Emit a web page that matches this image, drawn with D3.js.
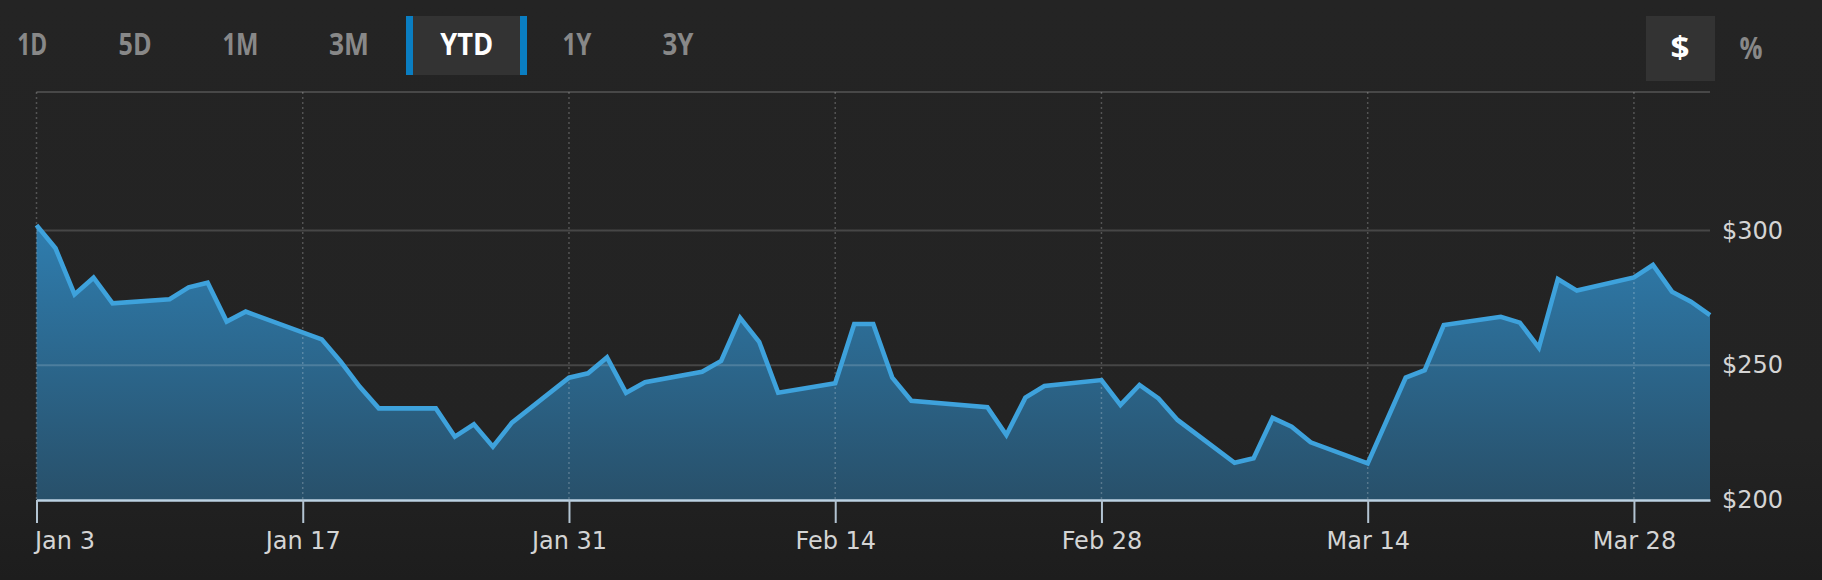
<!DOCTYPE html>
<html>
<head>
<meta charset="utf-8">
<script src="https://cdn.jsdelivr.net/npm/d3@7/dist/d3.min.js"></script>
<style>
  html, body { margin: 0; padding: 0; background: #232323; }
  svg { display: block; }
</style>
</head>
<body>
<svg id="chart" width="1822" height="580"></svg>
<script>
// ---- data ----
const dates = ["2022-01-03","2022-01-04","2022-01-05","2022-01-06","2022-01-07","2022-01-10","2022-01-11","2022-01-12","2022-01-13","2022-01-14","2022-01-18","2022-01-19","2022-01-20","2022-01-21","2022-01-24","2022-01-25","2022-01-26","2022-01-27","2022-01-28","2022-01-31","2022-02-01","2022-02-02","2022-02-03","2022-02-04","2022-02-07","2022-02-08","2022-02-09","2022-02-10","2022-02-11","2022-02-14","2022-02-15","2022-02-16","2022-02-17","2022-02-18","2022-02-22","2022-02-23","2022-02-24","2022-02-25","2022-02-28","2022-03-01","2022-03-02","2022-03-03","2022-03-04","2022-03-07","2022-03-08","2022-03-09","2022-03-10","2022-03-11","2022-03-14","2022-03-15","2022-03-16","2022-03-17","2022-03-18","2022-03-21","2022-03-22","2022-03-23","2022-03-24","2022-03-25","2022-03-28","2022-03-29","2022-03-30","2022-03-31","2022-04-01"];
const prices = [302,293.4,276.3,282.5,273,274.5,278.9,280.6,266.2,269.9,259.6,251.3,242.0,234.0,234.0,223.5,228.1,219.8,228.7,245.4,247.0,252.9,239.8,243.7,247.6,251.6,267.6,258.7,239.8,243.3,265.3,265.3,245.4,236.8,234.4,224.1,238.0,242.3,244.5,235.3,242.7,237.7,229.7,213.8,215.5,230.5,227.2,221.4,213.6,229.5,245.4,248.2,264.9,268.0,265.8,256.5,282.0,277.7,282.6,287.2,277.3,273.6,268.6];
const xTickDates = ["2022-01-03","2022-01-17","2022-01-31","2022-02-14","2022-02-28","2022-03-14","2022-03-28"];
const yTickValues = [200, 250, 300];
const yGridValues = [250, 300];
const rangeButtons = ["1D","5D","1M","3M","YTD","1Y","3Y"];
const activeRange = "YTD";
const unitButtons = ["$","%"];
const activeUnit = "$";

// ---- setup ----
const parse = d3.timeParse("%Y-%m-%d");
const data = dates.map((d, i) => ({ date: parse(d), value: prices[i] }));
const svg = d3.select("#chart");
const W = 1822, H = 580;
const plotL = 36.5, plotR = 1710, plotT = 92, plotB = 500;

const defs = svg.append("defs");
const bg = defs.append("linearGradient").attr("id", "bg").attr("x1", 0).attr("y1", 0).attr("x2", 0).attr("y2", 1);
bg.append("stop").attr("offset", "0%").attr("stop-color", "#242424");
bg.append("stop").attr("offset", "75%").attr("stop-color", "#232323");
bg.append("stop").attr("offset", "100%").attr("stop-color", "#1d1d1d");
svg.append("rect").attr("width", W).attr("height", H).attr("fill", "url(#bg)");

const areaGrad = defs.append("linearGradient").attr("id", "areaGrad")
  .attr("gradientUnits", "userSpaceOnUse").attr("x1", 0).attr("y1", 220).attr("x2", 0).attr("y2", plotB);
areaGrad.append("stop").attr("offset", "0%").attr("stop-color", "#2f7eb0");
areaGrad.append("stop").attr("offset", "100%").attr("stop-color", "#28506a");

const x = d3.scaleTime()
  .domain([parse(dates[0]), parse(dates[dates.length - 1])])
  .range([plotL, plotR]);
const y = d3.scaleLinear().domain([200, 300]).range([plotB, 230.5]);

// top border line
svg.append("line").attr("x1", plotL).attr("x2", plotR).attr("y1", plotT).attr("y2", plotT)
  .attr("stroke", "#484848").attr("stroke-width", 2);

// area
const area = d3.area().x(d => x(d.date)).y0(y(200)).y1(d => y(d.value));
svg.append("path").datum(data).attr("d", area).attr("fill", "url(#areaGrad)");

// vertical dotted gridlines
svg.append("g").selectAll("line").data(xTickDates.map(parse)).join("line")
  .attr("x1", d => x(d)).attr("x2", d => x(d))
  .attr("y1", plotT).attr("y2", plotB)
  .attr("stroke", "rgba(255,255,255,0.22)").attr("stroke-width", 1.5)
  .attr("stroke-dasharray", "2,3");

// horizontal gridlines
svg.append("g").selectAll("line").data(yGridValues).join("line")
  .attr("x1", plotL).attr("x2", plotR)
  .attr("y1", d => y(d)).attr("y2", d => y(d))
  .attr("stroke", "rgba(255,255,255,0.16)").attr("stroke-width", 2);

// line
const line = d3.line().x(d => x(d.date)).y(d => y(d.value));
svg.append("path").datum(data).attr("d", line)
  .attr("fill", "none").attr("stroke", "#3ea2dc").attr("stroke-width", 4.6)
  .attr("stroke-linejoin", "miter").attr("stroke-miterlimit", 3);

// x axis
const xAxis = d3.axisBottom(x)
  .tickValues(xTickDates.map(parse))
  .tickFormat(d3.timeFormat("%b %-d"))
  .tickSize(23).tickSizeOuter(0).tickPadding(9);
const gx = svg.append("g").attr("transform", `translate(0,${plotB})`).call(xAxis);
gx.select(".domain").attr("stroke", "#bcd2e3").attr("stroke-width", 2.5);
gx.selectAll(".tick line").attr("stroke", "#b3c4d2").attr("stroke-width", 2);
gx.selectAll(".tick text")
  .attr("fill", "#d4d4d4").attr("font-family", "DejaVu Sans").attr("font-size", 24)
  .attr("dy", "0.72em");
gx.selectAll(".tick").filter((d, i) => i === 0).select("text").attr("text-anchor", "start").attr("dx", -2);

// y axis (right)
const yAxis = d3.axisRight(y).tickValues(yTickValues).tickFormat(d => "$" + d)
  .tickSize(0).tickPadding(12);
const gy = svg.append("g").attr("transform", `translate(${plotR},0)`).call(yAxis);
gy.select(".domain").remove();
gy.selectAll(".tick text")
  .attr("fill", "#d4d4d4").attr("font-family", "DejaVu Sans").attr("font-size", 24);

// range buttons
const btnCenters = [32.3, 135, 240.5, 349, 466.7, 577, 678];
const btnWidths = [30, 33, 36, 40, 53, 29, 31];
const bx = d3.scaleOrdinal().domain(rangeButtons).range(btnCenters);
const bw = d3.scaleOrdinal().domain(rangeButtons).range(btnWidths);
const btnG = svg.append("g");
const act = btnG.append("g");
act.append("rect").attr("x", 413).attr("y", 16).attr("width", 107).attr("height", 59).attr("fill", "#333333");
act.append("rect").attr("x", 406).attr("y", 16).attr("width", 7).attr("height", 59).attr("fill", "#0a7ec2");
act.append("rect").attr("x", 520).attr("y", 16).attr("width", 7).attr("height", 59).attr("fill", "#0a7ec2");
btnG.selectAll("text").data(rangeButtons).join("text")
  .attr("x", d => bx(d)).attr("y", 55)
  .attr("text-anchor", "middle")
  .attr("font-family", "Open Sans").attr("font-weight", "bold").attr("font-size", 30)
  .attr("textLength", d => bw(d)).attr("lengthAdjust", "spacingAndGlyphs")
  .attr("fill", d => d === activeRange ? "#ffffff" : "#888888")
  .text(d => d);

// unit buttons
const uG = svg.append("g");
uG.append("rect").attr("x", 1646).attr("y", 16).attr("width", 69).attr("height", 65).attr("fill", "#333333");
const ux = d3.scaleOrdinal().domain(unitButtons).range([1680, 1751]);
uG.selectAll("text").data(unitButtons).join("text")
  .attr("x", d => ux(d)).attr("y", d => d === "$" ? 58 : 59)
  .attr("text-anchor", "middle")
  .attr("font-family", "Open Sans").attr("font-weight", "bold").attr("font-size", 31)
  .attr("textLength", d => d === "$" ? 19 : 23).attr("lengthAdjust", "spacingAndGlyphs")
  .attr("fill", d => d === activeUnit ? "#ffffff" : "#888888")
  .text(d => d);
</script>
</body>
</html>
